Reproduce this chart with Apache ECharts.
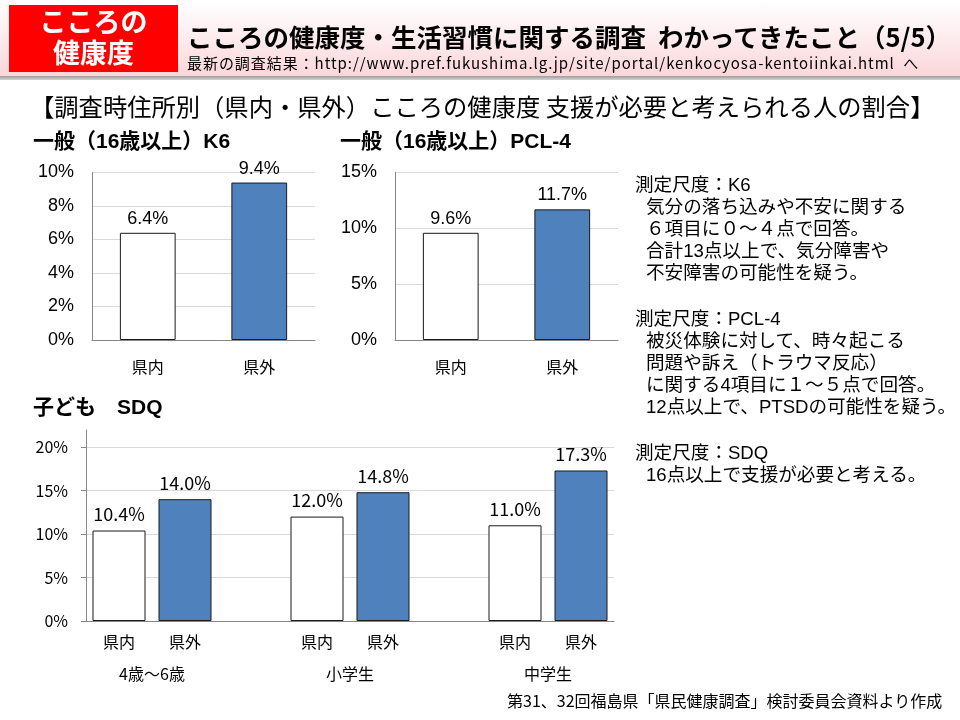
<!DOCTYPE html>
<html><head><meta charset="utf-8">
<script src="https://cdn.jsdelivr.net/npm/echarts@6/dist/echarts.min.js"></script>
<style>
html,body{margin:0;padding:0;width:960px;height:720px;overflow:hidden;background:#fff;color:#000;font-family:"Liberation Sans","Noto Sans CJK JP",sans-serif}
.t{position:absolute;white-space:nowrap;z-index:3}
#chart{position:absolute;left:0;top:0;width:960px;height:720px;z-index:2}
.jp{font-family:"Noto Sans CJK JP",sans-serif}
.ind{padding-left:11px}
.gap{display:block;height:24px}
</style></head><body>
<div style="position:absolute;left:0;top:0;width:960px;height:76px;background:linear-gradient(to bottom,#ffffff 0%,#fdeef0 45%,#fbd6d9 100%)"></div>
<div style="position:absolute;left:0;top:76px;width:960px;height:4px;background:linear-gradient(to bottom,#9c9c9c,#d4d4d4)"></div>
<div style="position:absolute;left:9px;top:5px;width:169px;height:67px;background:#ff0000"></div>
<div class="t jp" style="left:9px;top:4.5px;width:169px;text-align:center;color:#fff;font-weight:bold;font-size:27px;line-height:31px">こころの<br>健康度</div>
<div class="t jp" style="left:187px;top:20px;font-weight:bold;font-size:25.5px;line-height:32px">こころの健康度・生活習慣に関する調査<span style="display:inline-block;width:12px"></span>わかってきたこと（5/5）</div>
<div class="t jp" style="left:187px;top:53px;font-size:15px;line-height:20px;letter-spacing:0.95px">最新の調査結果：http://www.pref.fukushima.lg.jp/site/portal/kenkocyosa-kentoiinkai.html&nbsp;&nbsp;へ</div>
<div class="t jp" style="left:30px;top:92px;font-size:24.3px;line-height:28px">【調査時住所別（県内・県外）こころの健康度&nbsp;支援が必要と考えられる人の割合】</div>
<div class="t" style="left:33px;top:129px;font-weight:bold;font-size:21px;line-height:24px">一般（16歳以上）K6</div>
<div class="t" style="left:340px;top:129px;font-weight:bold;font-size:21px;line-height:24px">一般（16歳以上）PCL-4</div>
<div class="t" style="left:33px;top:395px;font-weight:bold;font-size:21px;line-height:24px">子ども　SDQ</div>
<div class="t" style="left:635px;top:174px;font-size:18.6px;line-height:22px">測定尺度：K6<br>
<span class="ind">気分の落ち込みや不安に関する</span><br>
<span class="ind">６項目に０～４点で回答。</span><br>
<span class="ind">合計13点以上で、気分障害や</span><br>
<span class="ind">不安障害の可能性を疑う。</span><span class="gap"></span>
測定尺度：PCL-4<br>
<span class="ind">被災体験に対して、時々起こる</span><br>
<span class="ind">問題や訴え（トラウマ反応）</span><br>
<span class="ind">に関する4項目に１～５点で回答。</span><br>
<span class="ind">12点以上で、PTSDの可能性を疑う。</span><span class="gap"></span>
測定尺度：SDQ<br>
<span class="ind">16点以上で支援が必要と考える。</span></div>
<div class="t jp" style="left:507px;top:689px;font-size:16px;line-height:22px">第31、32回福島県「県民健康調査」検討委員会資料より作成</div>
<div id="chart"></div>
<script>
// ---- data ----
const cats = ['県内', '県外'];
const k6Values = [6.4, 9.4];
const pclValues = [9.6, 11.7];
const sdqGroups = ['4歳～6歳', '小学生', '中学生'];
const sdqIn = [10.4, 12.0, 11.0];
const sdqOut = [14.0, 14.8, 17.3];

// ---- build ----
const WHITE = {color: '#ffffff', borderColor: '#1a1a1a', borderWidth: 1};
const BLUE = {color: '#4f81bd', borderColor: '#1a1a1a', borderWidth: 1};
const pct = p => Number(p.value).toFixed(1) + '%';

const sdqCats = [];
const sdqInData = [];
const sdqOutData = [];
sdqGroups.forEach((g, i) => {
  sdqCats.push(cats[0], cats[1]);
  sdqInData.push(sdqIn[i], '-');
  sdqOutData.push('-', sdqOut[i]);
  if (i < sdqGroups.length - 1) { sdqCats.push(''); sdqInData.push('-'); sdqOutData.push('-'); }
});
const groupSlots = [];
for (let k = 0; k <= sdqCats.length * 2; k++) groupSlots.push('');
sdqGroups.forEach((g, i) => { groupSlots[6 * i + 2] = g; });

const AX = '#868686', GRID = '#d9d9d9';
function yAxis(gi, max, interval, font, size, tick) {
  return {
    type: 'value', gridIndex: gi, min: 0, max: max, interval: interval,
    axisLine: {show: !tick, lineStyle: {color: AX}},
    axisTick: {show: !!tick, length: 5, lineStyle: {color: AX}},
    splitLine: {lineStyle: {color: GRID}},
    axisLabel: {formatter: '{value}%', fontFamily: font, fontSize: size, color: '#000', margin: 18}
  };
}
function xAxis(gi, data, margin, font) {
  return {
    type: 'category', gridIndex: gi, data: data,
    axisLine: {lineStyle: {color: AX}}, axisTick: {show: false},
    axisLabel: {interval: 0, fontFamily: font, fontSize: 16, color: '#000', margin: margin}
  };
}
function bar(xi, data, style, width, font, size, dist) {
  return {
    type: 'bar', xAxisIndex: xi, yAxisIndex: xi, data: data, barWidth: width, barGap: '-100%',
    itemStyle: style, animation: false,
    label: {show: true, position: 'top', distance: dist, formatter: pct, fontFamily: font, fontSize: size, color: '#000'}
  };
}
const LS = 'Liberation Sans', NJ = 'Noto Sans CJK JP';

const option = {
  animation: false,
  grid: [
    {left: 92, top: 172.5, width: 223, height: 167.5},
    {left: 395, top: 172.5, width: 223, height: 167.5},
    {left: 86, top: 447, width: 528, height: 174},
    {left: 86, top: 430, width: 528, height: 191}
  ],
  xAxis: [
    xAxis(0, cats, 19, NJ),
    xAxis(1, cats, 19, NJ),
    xAxis(2, sdqCats, 13, NJ),
    {type: 'category', gridIndex: 2, data: groupSlots, boundaryGap: false, position: 'bottom',
     axisLine: {show: false}, axisTick: {show: false}, splitLine: {show: false},
     axisLabel: {interval: 0, fontFamily: NJ, fontSize: 16, color: '#000', margin: 45}},
    {type: 'value', gridIndex: 3, show: false, min: 0, max: 1}
  ],
  yAxis: [
    yAxis(0, 10, 2, LS, 18, false),
    yAxis(1, 15, 5, LS, 18, false),
    yAxis(2, 20, 5, NJ, 16, true),
    {type: 'value', gridIndex: 3, min: 0, max: 1, axisLine: {show: true, lineStyle: {color: AX}},
     axisTick: {show: false}, axisLabel: {show: false}, splitLine: {show: false}}
  ],
  series: [
    bar(0, [k6Values[0], '-'], WHITE, '50%', LS, 18, 5),
    bar(0, ['-', k6Values[1]], BLUE, '50%', LS, 18, 5),
    bar(1, [pclValues[0], '-'], WHITE, '50%', LS, 18, 5),
    bar(1, ['-', pclValues[1]], BLUE, '50%', LS, 18, 5),
    Object.assign(bar(2, sdqInData, WHITE, 53, NJ, 18, 7), {yAxisIndex: 2}),
    Object.assign(bar(2, sdqOutData, BLUE, 53, NJ, 18, 7), {yAxisIndex: 2})
  ]
};
const chart = echarts.init(document.getElementById('chart'), null, {renderer: 'canvas'});
chart.setOption(option);
</script>
</body></html>
